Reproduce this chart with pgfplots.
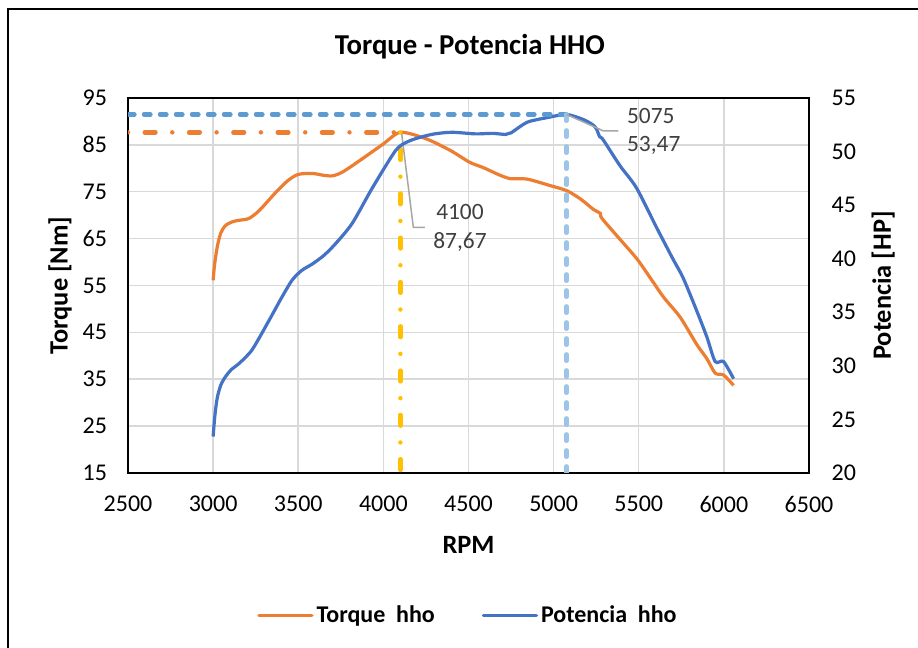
\documentclass[border=0pt]{standalone}
\usepackage{fontspec}
\setmainfont{Carlito}
\usepackage{pgfplots}
\pgfplotsset{compat=1.18}
\definecolor{torq}{HTML}{ED7D31}
\definecolor{pot}{HTML}{4472C4}
\definecolor{gold}{HTML}{FFC000}
\definecolor{ltblue}{HTML}{5B9BD5}
\definecolor{ltblue2}{HTML}{9DC3E6}
\definecolor{gridc}{HTML}{D9D9D9}
\definecolor{lblc}{HTML}{404040}
\definecolor{leadc}{HTML}{A6A6A6}
\begin{document}
\begin{tikzpicture}
\path[use as bounding box] (0,0) rectangle (459pt,324pt);
\fill[white] (0,0) rectangle (459pt,324pt);
\draw[line width=1pt] (4pt,-2pt) -- (4pt,319.5pt) -- (462pt,319.5pt);
\pgfplotsset{
  common/.style={
    at={(64pt,87.5pt)}, anchor=south west,
    scale only axis, width=340.5pt, height=187.5pt,
    xmin=2500, xmax=6500,
    xtick={2500,3000,...,6500},
    major tick length=0pt,
    axis line style={line width=1pt},
    /pgf/number format/assume math mode=true,
    /pgf/number format/1000 sep={},
    tick label style={font=\fontsize{12}{14}\selectfont, text=black},
    label style={font=\bfseries\fontsize{13.2}{15}\selectfont},
  }
}
\begin{axis}[common,
  ymin=15, ymax=95, ytick={15,25,...,95},
  grid=major, grid style={gridc, line width=0.75pt},
  yticklabel style={xshift=-7pt},
  xticklabel style={yshift=-8pt},
  xlabel={RPM},
  xlabel style={at={(axis description cs:0.5,-0.192)}, anchor=center},
  ylabel={Torque [Nm]},
  ylabel style={at={(axis description cs:-0.0999,0.5)}, anchor=center},
  title={Torque - Potencia HHO},
  every axis title shift=0pt,
  title style={at={(axis description cs:0.502,1.136)}, anchor=center, font=\bfseries\fontsize{14.4}{16}\selectfont},
]
\addplot[torq, line width=1.6pt, smooth, tension=0.45] coordinates {
(3000,56.1) (3008,59.3) (3024,63.2) (3045,66.2) (3073,67.8) (3114,68.6) (3151,68.9) (3210,69.3)
(3271,71.0) (3369,74.9) (3440,77.4) (3500,78.7) (3584,78.9) (3650,78.5) (3702,78.4) (3760,79.2)
(3859,81.6) (3996,85.1) (4100,87.67) (4251,86.3) (4394,83.8) (4506,81.3) (4590,80.1)
(4680,78.6) (4746,77.8) (4844,77.7) (4981,76.3) (5079,75.2) (5160,73.4) (5235,71.2) (5274,70.4)
(5284,69.3) (5391,64.8) (5489,60.7) (5570,56.5) (5646,52.5) (5744,48.2) (5841,42.4) (5900,39.4)
(5949,36.3) (5998,35.9) (6057,33.7)};
\addplot[torq, line width=2.2pt, line cap=round, dash pattern=on 0pt off 8.4pt on 5.35pt off 8.4pt] coordinates {(2500,87.67) (4100,87.67)};
\addplot[gold, line width=2.2pt, line cap=round, dash pattern=on 0pt off 8.4pt on 5.35pt off 8.4pt] coordinates {(4100,87.67) (4100,15)};
\addplot[leadc, line width=0.75pt] coordinates {(4108,87.3) (4176,67.4) (4244,67.4)};
\node[align=center, inner sep=0pt, text=lblc, font=\fontsize{11.7}{14.5}\selectfont] at (axis cs:4450,67.2) {4100\\87,67};
\end{axis}
\begin{axis}[common,
  ymin=20, ymax=55, ytick={20,25,...,55},
  axis y line*=right, axis x line=none,
  yticklabel style={xshift=7.8pt},
  ylabel={Potencia [HP]},
  ylabel style={at={(axis description cs:1.109,0.5)}, anchor=center},
  legend columns=2,
  legend style={at={(axis description cs:0.5,-0.379)}, anchor=center, draw=none,
    font=\bfseries\fontsize{12}{14}\selectfont, inner sep=0pt,
    /tikz/every even column/.append style={column sep=22pt},
    nodes={inner sep=1.5pt}},
  legend image code/.code={\draw[#1, line cap=round] (0pt,0pt) -- (26.5pt,0pt);},
]
\addlegendimage{torq, line width=1.6pt}
\addlegendentry{Torque\ \ hho}
\addplot[pot, line width=1.6pt, smooth, tension=0.45] coordinates {
(3000,23.4) (3010,25.3) (3024,27.0) (3045,28.2) (3073,29.0) (3110,29.7) (3151,30.2) (3229,31.5)
(3327,34.2) (3400,36.3) (3464,38.0) (3520,38.9) (3582,39.5) (3650,40.3) (3719,41.4) (3817,43.3)
(3935,46.6) (4072,50.1) (4140,50.9) (4209,51.3) (4300,51.65) (4405,51.8) (4542,51.65) (4640,51.7)
(4718,51.6) (4750,51.75) (4800,52.3) (4855,52.8) (4972,53.2) (5075,53.47) (5173,53.0) (5230,52.5)
(5252,52.1) (5270,51.4) (5291,51.1) (5389,48.7) (5487,46.6) (5605,42.9) (5700,40.0) (5761,38.2)
(5839,35.2) (5900,32.7) (5949,30.4) (5998,30.4) (6057,28.8)};
\addlegendentry{Potencia\ \ hho}
\addplot[ltblue, line width=2.2pt, line cap=round, dash pattern=on 3.2pt off 4.8pt, forget plot] coordinates {(2500,53.47) (5075,53.47)};
\addplot[ltblue2, line width=2.2pt, line cap=round, dash pattern=on 3.2pt off 4.8pt, forget plot] coordinates {(5075,53.47) (5075,20)};
\addplot[leadc, line width=0.75pt, forget plot] coordinates {(5075,53.47) (5292,51.93) (5380,51.93)};
\node[align=left, anchor=west, inner sep=0pt, text=lblc, font=\fontsize{11.7}{14.2}\selectfont] at (axis cs:5429,51.86) {5075\\53,47};
\end{axis}
\end{tikzpicture}
\end{document}
